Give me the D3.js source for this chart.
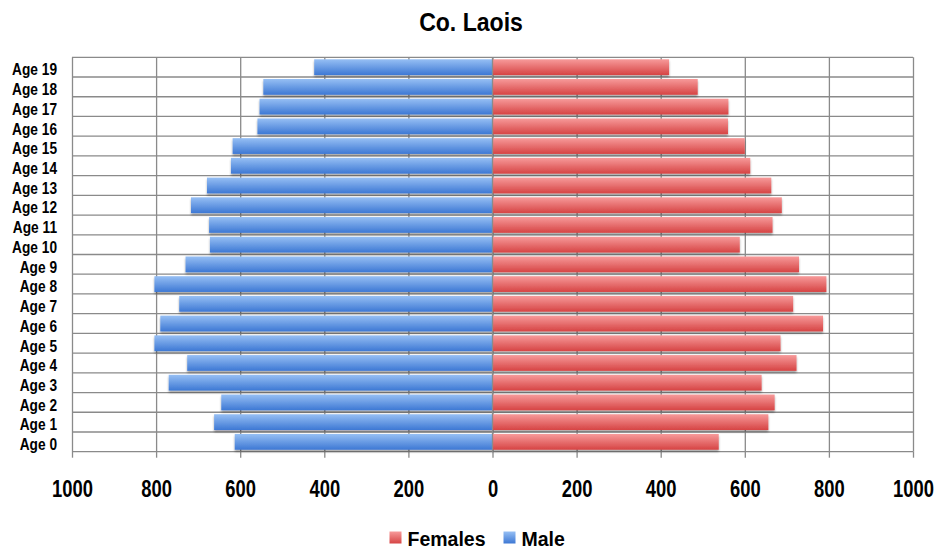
<!DOCTYPE html>
<html lang="en">
<head>
    <meta charset="UTF-8">
    <title>Co. Laois</title>
    <script src="https://d3js.org/d3.v7.min.js"></script>
    <style>
        body { margin: 0; background: #fff; }
        text { font-family: "Liberation Sans", Arial, sans-serif; font-weight: bold; fill: #000; }
    </style>
</head>
<body>
    <script>
        // data
        const ages = ["Age 0", "Age 1", "Age 2", "Age 3", "Age 4", "Age 5", "Age 6", "Age 7", "Age 8", "Age 9",
            "Age 10", "Age 11", "Age 12", "Age 13", "Age 14", "Age 15", "Age 16", "Age 17", "Age 18", "Age 19"];
        const male = [613, 662, 645, 770, 726, 804, 790, 745, 804, 730, 672, 674, 717, 679, 622, 618, 559, 554, 545, 424];
        const females = [538, 656, 671, 640, 723, 685, 786, 715, 794, 729, 588, 666, 688, 663, 613, 600, 560, 561, 488, 420];
        const xTicks = [-1000, -800, -600, -400, -200, 0, 200, 400, 600, 800, 1000];

        const W = 937, H = 554;
        const pLeft = 72, pRight = 913, pTop = 57.3, pBottom = 451.7;

        const svg = d3.select("body").append("svg")
            .attr("width", W).attr("height", H);

        const defs = svg.append("defs");
        function grad(id, c1, c2) {
            const g = defs.append("linearGradient").attr("id", id)
                .attr("x1", 0).attr("y1", 0).attr("x2", 0).attr("y2", 1);
            g.append("stop").attr("offset", "0%").attr("stop-color", c1);
            g.append("stop").attr("offset", "100%").attr("stop-color", c2);
        }
        grad("gRed", "#f79a9a", "#d64444");
        grad("gBlue", "#96bff4", "#3d78d4");
        defs.append("filter").attr("id", "shadow")
            .attr("x", "-5%").attr("y", "-30%").attr("width", "110%").attr("height", "170%")
            .append("feDropShadow")
            .attr("dx", 0).attr("dy", 2).attr("stdDeviation", 1.2)
            .attr("flood-color", "#000").attr("flood-opacity", 0.35);

        const x = d3.scaleLinear().domain([-1000, 1000]).range([pLeft, pRight]);
        const y = d3.scaleBand().domain(ages.slice().reverse()).range([pTop, pBottom])
            .paddingInner(0.2).paddingOuter(0.1);

        // title (the original font is a narrow one, so squeeze it)
        svg.append("text")
            .attr("transform", "translate(471,31) scale(0.87,1)")
            .attr("text-anchor", "middle")
            .style("font-size", "26.5px")
            .text("Co. Laois");

        // vertical gridlines
        svg.append("g")
            .attr("transform", `translate(0,${pBottom})`)
            .call(d3.axisBottom(x).tickValues(xTicks).tickSize(-(pBottom - pTop)).tickFormat(""))
            .call(g => g.select(".domain").remove())
            .call(g => g.selectAll("line").attr("stroke", "#8a8a8a").attr("stroke-width", 1.3));

        // x axis ticks and labels
        svg.append("g")
            .attr("transform", `translate(0,${pBottom})`)
            .call(d3.axisBottom(x).tickValues(xTicks).tickSize(6).tickPadding(23)
                .tickFormat(d => Math.abs(d)))
            .call(g => g.select(".domain").remove())
            .call(g => g.selectAll("line").attr("stroke", "#8a8a8a").attr("stroke-width", 1.3))
            .call(g => g.selectAll("text")
                .style("font-size", "23px")
                .attr("transform", "scale(0.8,1)"));

        // horizontal lines between categories
        const step = y.step();
        const hLines = d3.range(ages.length + 1).map(i => pTop + i * step);
        svg.append("g").selectAll("line")
            .data(hLines)
            .join("line")
            .attr("x1", pLeft).attr("x2", pRight)
            .attr("y1", d => d).attr("y2", d => d)
            .attr("stroke", "#8a8a8a").attr("stroke-width", 1.3);

        // bars
        const rows = ages.map((a, i) => ({ age: a, m: male[i], f: females[i] }));
        const bars = svg.append("g").attr("filter", "url(#shadow)");
        bars.selectAll(".m")
            .data(rows)
            .join("rect")
            .attr("class", "m")
            .attr("x", d => x(-d.m))
            .attr("y", d => y(d.age))
            .attr("width", d => x(0) - x(-d.m))
            .attr("height", y.bandwidth())
            .attr("fill", "url(#gBlue)");
        bars.selectAll(".f")
            .data(rows)
            .join("rect")
            .attr("class", "f")
            .attr("x", x(0))
            .attr("y", d => y(d.age))
            .attr("width", d => x(d.f) - x(0))
            .attr("height", y.bandwidth())
            .attr("fill", "url(#gRed)");

        // category axis at zero
        svg.append("line")
            .attr("x1", x(0)).attr("x2", x(0))
            .attr("y1", pTop).attr("y2", pBottom)
            .attr("stroke", "#8a8a8a").attr("stroke-width", 1.3);

        // age labels on the left
        svg.append("g").selectAll("text")
            .data(ages)
            .join("text")
            .attr("transform", d => `translate(57,${y(d) + y.bandwidth() / 2}) scale(0.83,1)`)
            .attr("dy", "0.5em")
            .attr("text-anchor", "end")
            .style("font-size", "16.5px")
            .text(d => d);

        // legend
        const legend = [
            { name: "Females", fill: "url(#gRed)", x: 389.5 },
            { name: "Male", fill: "url(#gBlue)", x: 503.5 }
        ];
        const lg = svg.append("g").selectAll("g")
            .data(legend)
            .join("g")
            .attr("transform", d => `translate(${d.x},531.5)`);
        lg.append("rect")
            .attr("width", 12).attr("height", 12)
            .attr("fill", d => d.fill);
        lg.append("text")
            .attr("x", 18).attr("y", 14.5)
            .style("font-size", "19.5px")
            .text(d => d.name);
    </script>
</body>
</html>
